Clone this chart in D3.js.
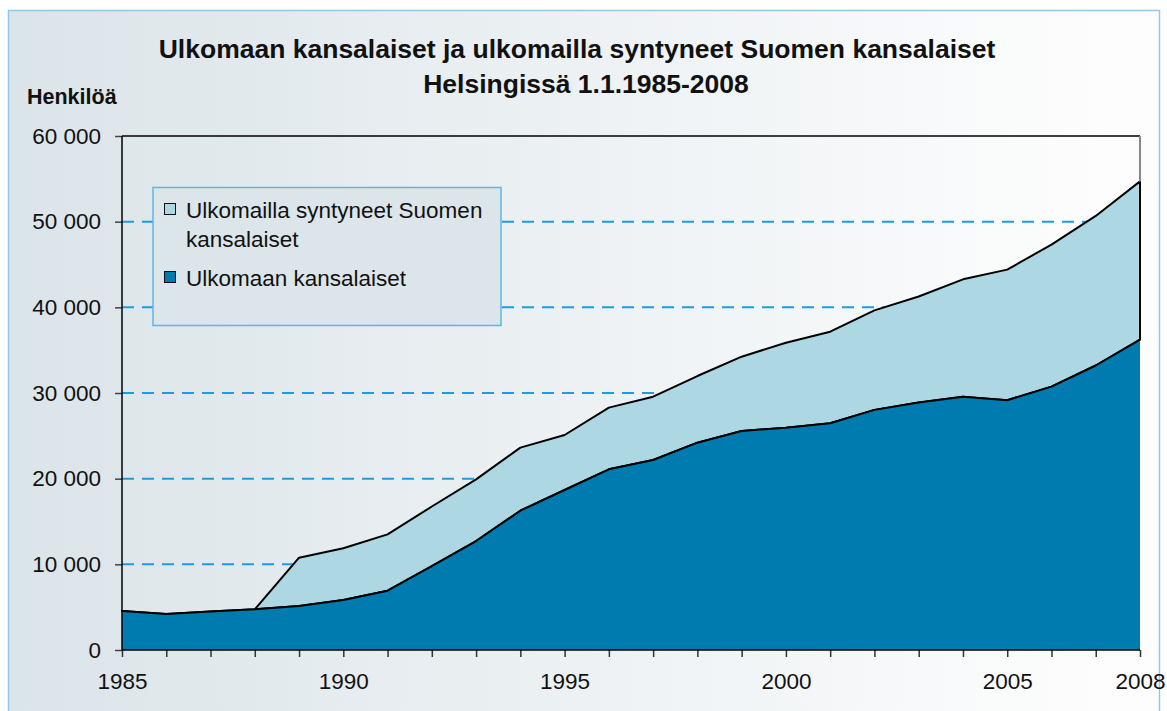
<!DOCTYPE html>
<html lang="fi">
<head>
<meta charset="UTF-8">
<title>Ulkomaan kansalaiset Helsingissä</title>
<script src="https://d3js.org/d3.v7.min.js"></script>
<style>
  body { margin: 0; background: #fff; }
  svg { display: block; font-family: "Liberation Sans", Arial, sans-serif; }
  .axis path { display: none; }
  .axis text { font-size: 22.5px; fill: #111; }
</style>
</head>
<body>
<svg id="chart" width="1167" height="711"></svg>
<script>
// Years 1.1.1985 - 1.1.2008
const years = d3.range(1985, 2009);

// Ulkomaan kansalaiset (foreign citizens)
const foreignCitizens = [
  4550, 4200, 4500, 4750, 5130, 5840, 6920, 9800, 12720, 16260,
  18680, 21090, 22180, 24200, 25560, 25950, 26460, 28030, 28900, 29570,
  29160, 30740, 33210, 36230
];

// Ulkomailla syntyneet Suomen kansalaiset (foreign-born Finnish citizens)
const foreignBornFinns = [
  0, 0, 0, 0, 5650, 6030, 6580, 6950, 7200, 7360,
  6420, 7200, 7390, 7780, 8680, 9920, 10700, 11620, 12370, 13700,
  15240, 16590, 17460, 18470
];

const yTicks = [0, 10000, 20000, 30000, 40000, 50000, 60000];
const xLabelYears = [1985, 1990, 1995, 2000, 2005, 2008];

const seriesNames = ["Ulkomaan kansalaiset", "Ulkomailla syntyneet Suomen kansalaiset"];
const colors = ["#007bb0", "#add8e3"];

const svg = d3.select("#chart");
const plotLeft = 122, plotRight = 1140, plotTop = 136, plotBottom = 650;

// background gradient panel
const defs = svg.append("defs");
const grad = defs.append("linearGradient").attr("id", "bg").attr("x1", "0").attr("x2", "1");
grad.append("stop").attr("offset", "0").attr("stop-color", "#dbe4e9");
grad.append("stop").attr("offset", "0.95").attr("stop-color", "#fdfdfd");
svg.append("rect").attr("x", 8.5).attr("y", 10.5).attr("width", 1151).attr("height", 710)
  .attr("fill", "url(#bg)").attr("stroke", "#8ec9ea").attr("stroke-width", 1.5);

const x = d3.scaleLinear().domain([1985, 2008]).range([plotLeft, plotRight]);
const y = d3.scaleLinear().domain([0, 60000]).range([plotBottom, plotTop]);

const fi = d3.formatLocale({ decimal: ",", thousands: " ", grouping: [3], currency: ["", ""] });
const fmt = fi.format(",");

// dashed gridlines
svg.append("g").selectAll("line")
  .data(yTicks.filter(d => d > 0 && d < 60000))
  .join("line")
  .attr("x1", plotLeft).attr("x2", plotRight)
  .attr("y1", d => y(d)).attr("y2", d => y(d))
  .attr("stroke", "#1c9ce2").attr("stroke-width", 2)
  .attr("stroke-dasharray", "12,8");

// stacked areas
const table = years.map((yr, i) => ({
  year: yr,
  [seriesNames[0]]: foreignCitizens[i],
  [seriesNames[1]]: foreignBornFinns[i]
}));
const stack = d3.stack().keys(seriesNames)(table);

const area = d3.area()
  .x(d => x(d.data.year))
  .y0(d => y(d[0]))
  .y1(d => y(d[1]));
const topLine = d3.line()
  .x(d => x(d.data.year))
  .y(d => y(d[1]));

svg.append("path").datum(stack[1]).attr("d", area)
  .attr("fill", colors[1]).attr("stroke", "#000").attr("stroke-width", 2)
  .attr("stroke-linejoin", "round");
svg.append("path").datum(stack[0]).attr("d", area).attr("fill", colors[0]);
svg.append("path").datum(stack[0]).attr("d", topLine)
  .attr("fill", "none").attr("stroke", "#000").attr("stroke-width", 2)
  .attr("stroke-linejoin", "round");

// frame: top black, right grey
svg.append("line").attr("x1", plotLeft).attr("x2", plotRight).attr("y1", plotTop).attr("y2", plotTop)
  .attr("stroke", "#000").attr("stroke-width", 1.5);
const last = stack[1][stack[1].length - 1];
svg.append("line").attr("x1", plotRight).attr("x2", plotRight).attr("y1", plotTop).attr("y2", y(last[1]))
  .attr("stroke", "#888").attr("stroke-width", 2);

// y axis
const yAxis = svg.append("g").attr("class", "axis")
  .attr("transform", `translate(${plotLeft},0)`)
  .call(d3.axisLeft(y).tickValues(yTicks).tickSize(7).tickPadding(14).tickFormat(fmt));
yAxis.selectAll(".tick line").attr("stroke", "#444").attr("stroke-width", 1.5);
svg.append("line").attr("x1", plotLeft).attr("x2", plotLeft).attr("y1", plotTop).attr("y2", plotBottom)
  .attr("stroke", "#000").attr("stroke-width", 1.5);

// x axis
const xAxis = svg.append("g").attr("class", "axis")
  .attr("transform", `translate(0,${plotBottom})`)
  .call(d3.axisBottom(x).tickValues(years).tickSize(7).tickPadding(16)
    .tickFormat(d => xLabelYears.includes(d) ? d : ""));
xAxis.selectAll(".tick line").attr("stroke", "#333").attr("stroke-width", 1.5);
svg.append("line").attr("x1", plotLeft).attr("x2", plotRight).attr("y1", plotBottom).attr("y2", plotBottom)
  .attr("stroke", "#000").attr("stroke-width", 1.5);

// titles
svg.append("text").attr("x", 577).attr("y", 58).attr("text-anchor", "middle")
  .attr("font-size", 26.5).attr("font-weight", "bold").attr("fill", "#111")
  .text("Ulkomaan kansalaiset ja ulkomailla syntyneet Suomen kansalaiset");
svg.append("text").attr("x", 586).attr("y", 93).attr("text-anchor", "middle")
  .attr("font-size", 26.5).attr("font-weight", "bold").attr("fill", "#111")
  .text("Helsingissä 1.1.1985-2008");
svg.append("text").attr("x", 27).attr("y", 104)
  .attr("font-size", 21.5).attr("font-weight", "bold").attr("fill", "#111")
  .text("Henkilöä");

// legend
const lg = svg.append("g");
lg.append("rect").attr("x", 153).attr("y", 187.5).attr("width", 348).attr("height", 138)
  .attr("fill", "#dce5ea").attr("stroke", "#5fb6e6").attr("stroke-width", 1.5);
const legendItems = [
  { color: colors[1], lines: ["Ulkomailla syntyneet Suomen", "kansalaiset"], y: 203 },
  { color: colors[0], lines: ["Ulkomaan kansalaiset"], y: 271 }
];
legendItems.forEach(it => {
  lg.append("rect").attr("x", 164.5).attr("y", it.y + 0.5).attr("width", 11).attr("height", 11)
    .attr("fill", it.color).attr("stroke", "#111").attr("stroke-width", 1);
  const t = lg.append("text").attr("x", 186).attr("y", it.y + 15)
    .attr("font-size", 22.5).attr("fill", "#111");
  it.lines.forEach((l, i) => t.append("tspan").attr("x", 186).attr("dy", i ? 29 : 0).text(l));
});
</script>
</body>
</html>
